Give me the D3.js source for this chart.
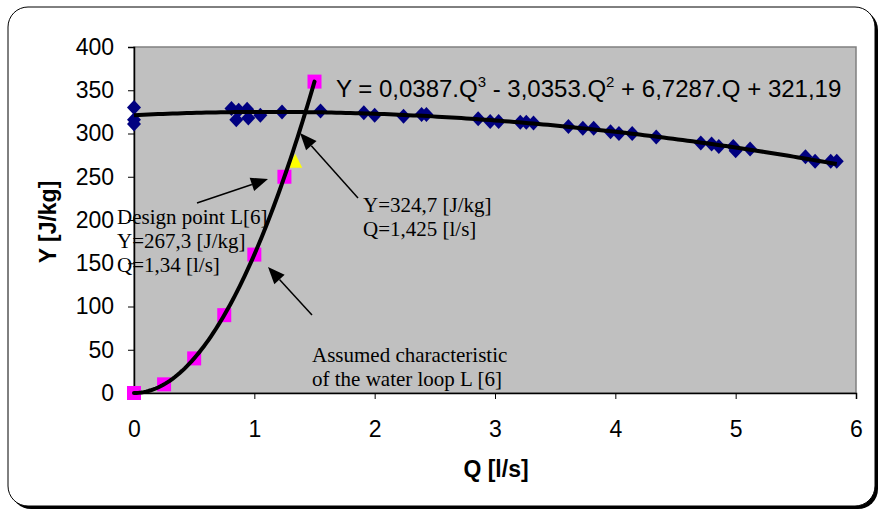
<!DOCTYPE html>
<html>
<head>
<meta charset="utf-8">
<script src="https://cdnjs.cloudflare.com/ajax/libs/d3/7.8.5/d3.min.js"></script>
<style>
  body { margin: 0; background: #fff; }
  svg { display: block; }
</style>
</head>
<body>
<svg id="chart" width="881" height="512"></svg>
<script>
// measured pump points (Q [l/s], Y [J/kg])
var pumpQ = [0, 0, 0, 0.81, 0.85, 0.87, 0.94, 0.95, 1.05, 1.23, 1.55, 1.91, 2.0, 2.24, 2.39, 2.43,
	2.86, 2.96, 3.03, 3.21, 3.26, 3.32, 3.61, 3.73, 3.82, 3.96, 4.03, 4.14, 4.34, 4.71, 4.80,
	4.86, 4.98, 5.0, 5.12, 5.58, 5.66, 5.79, 5.84];
var pumpY = [330, 316, 311, 329, 316, 327, 328, 318, 321, 325, 326, 324, 321, 320, 322, 322,
	317, 314, 314, 313, 313, 312, 308, 306, 306, 302, 300, 300, 296, 289, 288,
	285, 285, 280, 282, 273, 268, 268, 268];

// water loop characteristic
var loopQ = [0, 0.25, 0.5, 0.75, 1.0, 1.25, 1.5];
var loopY = [0, 10, 40, 90, 160, 250, 360];

// design point
var designQ = [1.34];
var designY = [267.3];

// trendline coefficients, c0 + c1.Q + c2.Q^2 + c3.Q^3
var pumpTrend = [321.19, 6.7287, -3.0353, 0.0387];
var loopTrend = [0, 0, 160, 0];

var xTicks = [0, 1, 2, 3, 4, 5, 6];
var yTicks = [0, 50, 100, 150, 200, 250, 300, 350, 400];

var sans = 'Liberation Sans, Arial, sans-serif';
var serif = 'Liberation Serif, Times New Roman, serif';

var svg = d3.select('#chart');

// outer frame with shadow
svg.append('rect').attr('x', 11).attr('y', 10).attr('width', 867).attr('height', 499)
	.attr('rx', 20).attr('fill', '#000');
svg.append('rect').attr('x', 8).attr('y', 7).attr('width', 867).attr('height', 499)
	.attr('rx', 20).attr('fill', '#fff').attr('stroke', '#000').attr('stroke-width', 1);

var x = d3.scaleLinear().domain([0, 6]).range([134, 856]);
var y = d3.scaleLinear().domain([0, 400]).range([393, 47]);

// plot area
svg.append('rect').attr('x', x(0)).attr('y', y(400))
	.attr('width', x(6) - x(0)).attr('height', y(0) - y(400))
	.attr('fill', '#c0c0c0').attr('stroke', '#808080').attr('stroke-width', 1.5);

var xAxis = svg.append('g').attr('transform', 'translate(0,' + y(0) + ')')
	.call(d3.axisBottom(x).tickValues(xTicks).tickSize(6).tickPadding(22).tickFormat(d3.format('d')));
var yAxis = svg.append('g').attr('transform', 'translate(' + x(0) + ',0)')
	.call(d3.axisLeft(y).tickValues(yTicks).tickSize(6).tickPadding(14).tickFormat(d3.format('d')));
[xAxis, yAxis].forEach(function(a) {
	a.select('.domain').attr('stroke', '#000').attr('stroke-width', 1.5);
	a.selectAll('.tick line').attr('stroke', '#000');
	a.selectAll('.tick text').attr('font-family', sans)
		.attr('font-size', 23).attr('fill', '#000');
});

// axis titles
svg.append('text').attr('x', 496).attr('y', 477).attr('text-anchor', 'middle')
	.attr('font-family', sans).attr('font-size', 23)
	.attr('font-weight', 'bold').text('Q [l/s]');
svg.append('text').attr('transform', 'translate(56,222) rotate(-90)').attr('text-anchor', 'middle')
	.attr('font-family', sans).attr('font-size', 23)
	.attr('font-weight', 'bold').text('Y [J/kg]');

function poly(c) {
	return function(q) { return c[0] + c[1] * q + c[2] * q * q + c[3] * q * q * q; };
}

var pumpPts = pumpQ.map(function(q, i) { return { q: q, y: pumpY[i] }; });
var loopPts = loopQ.map(function(q, i) { return { q: q, y: loopY[i] }; });

// markers
svg.selectAll('.dia').data(pumpPts).enter().append('path')
	.attr('class', 'dia')
	.attr('d', 'M0,-7.5L7,0L0,7.5L-7,0Z')
	.attr('transform', function(d) { return 'translate(' + x(d.q) + ',' + y(d.y) + ')'; })
	.attr('fill', '#000080');

svg.selectAll('.sq').data(loopPts).enter().append('rect')
	.attr('class', 'sq')
	.attr('x', function(d) { return x(d.q) - 7; })
	.attr('y', function(d) { return y(d.y) - 7; })
	.attr('width', 14).attr('height', 14)
	.attr('fill', '#ff00ff');

svg.selectAll('.tri').data(designQ).enter().append('path')
	.attr('class', 'tri')
	.attr('d', 'M0,-8L7,6L-7,6Z')
	.attr('transform', function(d, i) { return 'translate(' + x(d) + ',' + y(designY[i]) + ')'; })
	.attr('fill', '#ffff00');

// trendlines
var line = d3.line().x(function(d) { return x(d[0]); }).y(function(d) { return y(d[1]); });
var fp = poly(pumpTrend), fl = poly(loopTrend);
svg.append('path')
	.attr('d', line(d3.range(0, 5.84 + 0.001, 0.04).map(function(q) { return [q, fp(q)]; })))
	.attr('fill', 'none').attr('stroke', '#000').attr('stroke-width', 4);
svg.append('path')
	.attr('d', line(d3.range(0, 1.5 + 0.001, 0.02).map(function(q) { return [q, fl(q)]; })))
	.attr('fill', 'none').attr('stroke', '#000').attr('stroke-width', 4).attr('stroke-linecap', 'round');

// equation
var eq = svg.append('text').attr('x', 336).attr('y', 97)
	.attr('font-family', sans).attr('font-size', 24).attr('fill', '#000');
eq.append('tspan').text('Y = 0,0387.Q');
eq.append('tspan').attr('dy', -10).attr('font-size', 15).text('3');
eq.append('tspan').attr('dy', 10).text(' - 3,0353.Q');
eq.append('tspan').attr('dy', -10).attr('font-size', 15).text('2');
eq.append('tspan').attr('dy', 10).text(' + 6,7287.Q + 321,19');

// annotations
function notes(lines, x0, y0) {
	lines.forEach(function(t, i) {
		svg.append('text').attr('x', x0).attr('y', y0 + i * 24)
			.attr('font-family', serif).attr('font-size', 21)
			.attr('fill', '#000').text(t);
	});
}
notes(['Design point L[6]', 'Y=267,3 [J/kg]', 'Q=1,34 [l/s]'], 117, 224);
notes(['Y=324,7 [J/kg]', 'Q=1,425 [l/s]'], 363, 212);
notes(['Assumed characteristic', 'of the water loop L [6]'], 312, 362);

function arrow(x1, y1, x2, y2) {
	var a = Math.atan2(y2 - y1, x2 - x1), len = 17, w = 7;
	var bx = x2 - len * Math.cos(a), by = y2 - len * Math.sin(a);
	svg.append('line').attr('x1', x1).attr('y1', y1).attr('x2', bx).attr('y2', by)
		.attr('stroke', '#000').attr('stroke-width', 1.5);
	svg.append('path').attr('d', 'M' + x2 + ',' + y2 +
		'L' + (bx + w * Math.sin(a)) + ',' + (by - w * Math.cos(a)) +
		'L' + (bx - w * Math.sin(a)) + ',' + (by + w * Math.cos(a)) + 'Z')
		.attr('fill', '#000');
}
arrow(197, 203, 268, 179);
arrow(358, 198, 300, 133);
arrow(312, 315, 268, 267);
</script>
</body>
</html>
